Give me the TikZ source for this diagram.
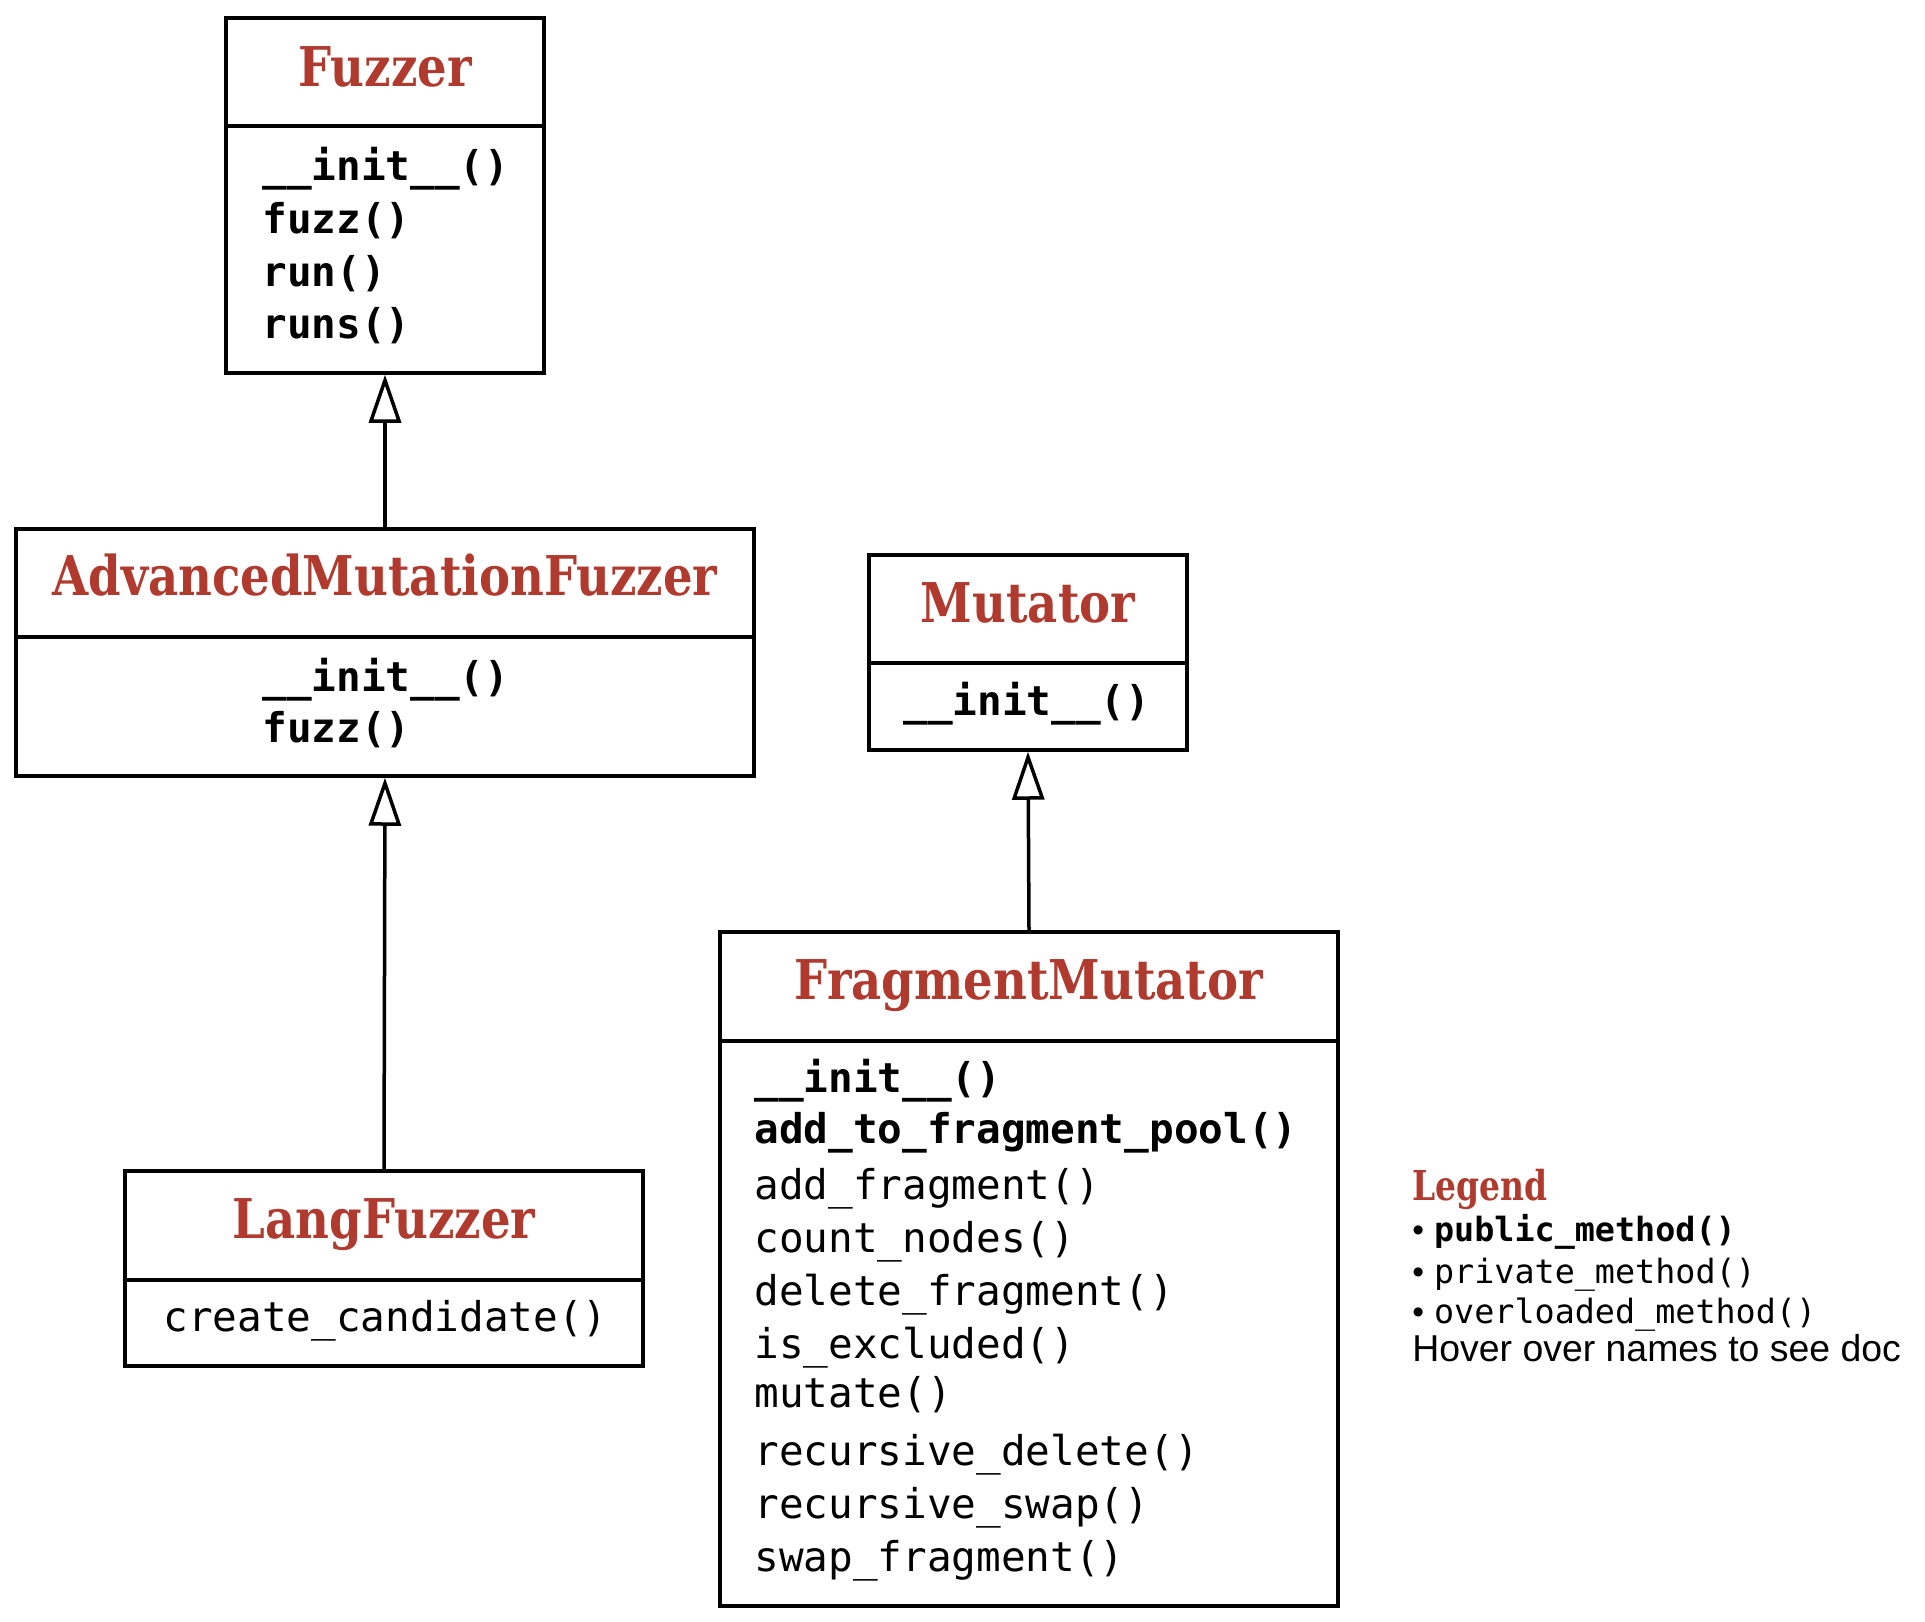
\documentclass[tikz,border=0pt]{standalone}
\usepackage{fontspec}
\setmainfont{Liberation Sans}
\newfontfamily\titlefont[FakeStretch=0.85]{DejaVu Serif Bold}
\newfontfamily\legfont[FakeStretch=0.8]{DejaVu Serif Bold}
\newfontfamily\methfont{DejaVu Sans Mono}
\newfontfamily\hoverfont{Liberation Sans}
\usetikzlibrary{arrows.meta,fit}
\definecolor{titlered}{RGB}{176,58,46}
\tikzset{
  classbox/.style={draw=black, line width=1.75pt, inner sep=0pt},
  divider/.style={draw=black, line width=1.75pt},
  classtitle/.style={anchor=base, inner sep=0pt, text=titlered, font=\titlefont\fontsize{27.4}{30}\selectfont},
  legendtitle/.style={anchor=base west, inner sep=0pt, text=titlered, font=\legfont\fontsize{20.6}{24}\selectfont},
  pubmeth/.style={anchor=base west, inner sep=0pt, font=\methfont\bfseries\fontsize{20.5}{24}\selectfont},
  privmeth/.style={anchor=base west, inner sep=0pt, font=\methfont\fontsize{20.5}{24}\selectfont},
  legenditem/.style={anchor=base west, inner sep=0pt, font=\hoverfont\fontsize{16.7}{20}\selectfont},
  hovertext/.style={anchor=base west, inner sep=0pt, font=\hoverfont\fontsize{18.7}{22}\selectfont},
  inherit/.style={draw=black, line width=1.75pt,
    -{Triangle[open, length=24pt, width=16pt, line width=1.75pt]}},
}
\begin{document}
\begin{tikzpicture}[x=0.5pt,y=-0.5pt]
\useasboundingbox (0,0) rectangle (1925,1621);
\fill[white] (0,0) rectangle (1925,1621);

% Fuzzer
\node[classbox, fit={(226,18) (544,373)}] (fuzzer) {};
\draw[divider] (226,126) -- (544,126);
\node[classtitle] (fuzzerT) at (385,87) {Fuzzer};
\node[pubmeth] (fuzzer1) at (262,181) {\_\_init\_\_()};
\node[pubmeth] (fuzzer2) at (262,234) {fuzz()};
\node[pubmeth] (fuzzer3) at (262,286) {run()};
\node[pubmeth] (fuzzer4) at (262,338) {runs()};

% AdvancedMutationFuzzer
\node[classbox, fit={(16,529) (754,776)}] (amf) {};
\draw[divider] (16,637) -- (754,637);
\node[classtitle] (amfT) at (385,595) {AdvancedMutationFuzzer};
\node[pubmeth] (amf1) at (262,691) {\_\_init\_\_()};
\node[pubmeth] (amf2) at (262,742) {fuzz()};

% LangFuzzer
\node[classbox, fit={(125,1171) (643,1366)}] (lf) {};
\draw[divider] (125,1280) -- (643,1280);
\node[classtitle] (lfT) at (384,1238) {LangFuzzer};
\node[privmeth] (lf1) at (163,1331) {create\_candidate()};

% Mutator
\node[classbox, fit={(869,555) (1187,750)}] (mut) {};
\draw[divider] (869,663) -- (1187,663);
\node[classtitle] (mutT) at (1028,622) {Mutator};
\node[pubmeth] (mut1) at (903,715) {\_\_init\_\_()};

% FragmentMutator
\node[classbox, fit={(720,932) (1338,1606)}] (fm) {};
\draw[divider] (720,1041) -- (1338,1041);
\node[classtitle] (fmT) at (1029,999) {FragmentMutator};
\node[pubmeth] (fm1) at (754,1092) {\_\_init\_\_()};
\node[pubmeth] (fm2) at (754,1143) {add\_to\_fragment\_pool()};
\node[privmeth] (fm3) at (754,1199) {add\_fragment()};
\node[privmeth] (fm4) at (754,1252) {count\_nodes()};
\node[privmeth] (fm5) at (754,1305) {delete\_fragment()};
\node[privmeth] (fm6) at (754,1358) {is\_excluded()};
\node[privmeth] (fm7) at (754,1407) {mutate()};
\node[privmeth] (fm8) at (754,1465) {recursive\_delete()};
\node[privmeth] (fm9) at (754,1518) {recursive\_swap()};
\node[privmeth] (fm10) at (754,1571) {swap\_fragment()};

% Inheritance
\draw[inherit] (amf.north) -- (fuzzer.south);
\draw[inherit] (lf.north) -- (amf.south);
\draw[inherit] (fm.north) -- (mut.south);

% Legend
\node[legendtitle] (legT) at (1412,1200) {Legend};
\node[legenditem] (leg1) at (1412,1241) {•\kern0.3em{\methfont\bfseries public\_method()}};
\node[legenditem] (leg2) at (1412,1283) {•\kern0.3em{\methfont private\_method()}};
\node[legenditem] (leg3) at (1412,1323) {•\kern0.3em{\methfont overloaded\_method()}};
\node[hovertext] (leg4) at (1412,1361) {Hover over names to see doc};
\end{tikzpicture}
\end{document}
